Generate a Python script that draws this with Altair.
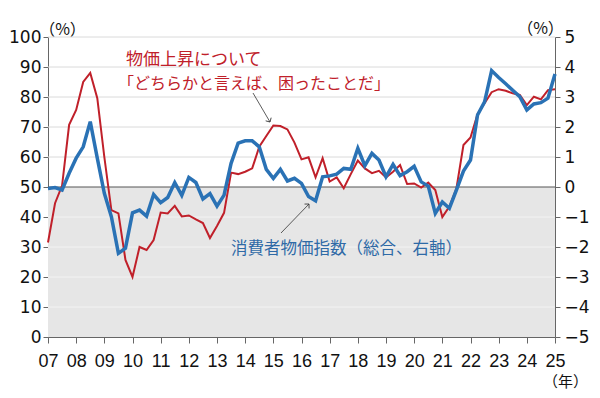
import altair as alt
import pandas as pd

# ---- data (quarterly, 2007Q1 .. 2025Q1) ----
start_year = 2007
red_pct = [31.5, 44.6, 50.5, 70.7, 75.7, 85.0, 88.0, 79.6, 60.0, 42.3,
           41.2, 25.7, 20.0, 30.0, 29.0, 32.3, 41.5, 41.2, 43.7, 40.2,
           40.5, 39.2, 38.0, 33.0, 37.0, 41.4, 54.8, 54.3, 55.1, 56.2,
           63.4, 67.0, 70.5, 70.3, 69.2, 64.8, 59.2, 59.9, 53.2, 59.6,
           51.8, 53.2, 49.6, 54.3, 58.8, 56.2, 54.6, 55.4, 53.2, 55.1,
           57.3, 51.0, 51.2, 49.8, 51.5, 49.0, 40.0, 43.5, 49.5, 64.0,
           66.5, 74.3, 77.9, 81.6, 82.6, 82.1, 81.2, 80.7, 77.3, 80.1,
           79.2, 82.3, 82.6]
cpi = [-0.05, -0.02, -0.10, 0.46, 0.96, 1.34, 2.18, 0.96, -0.21, -0.99,
       -2.21, -2.04, -0.86, -0.77, -0.97, -0.25, -0.52, -0.35, 0.15, -0.28,
       0.32, 0.15, -0.40, -0.22, -0.64, -0.27, 0.79, 1.46, 1.54, 1.54,
       1.34, 0.59, 0.29, 0.59, 0.20, 0.29, 0.12, -0.32, -0.46, 0.34,
       0.37, 0.43, 0.62, 0.59, 1.29, 0.71, 1.12, 0.90, 0.34, 0.75,
       0.38, 0.51, 0.69, 0.17, 0.03, -0.88, -0.50, -0.71, -0.10, 0.53,
       0.90, 2.40, 2.84, 3.88, 3.65, 3.44, 3.22, 3.01, 2.57, 2.77,
       2.81, 2.96, 3.77]
years = list(range(2007, 2026))
left_ticks = list(range(0, 101, 10))
right_ticks = list(range(-5, 6))
grid_upper = [60, 70, 80, 90, 100]
grid_lower = [10, 20, 30, 40]
baseline = [50]

red_label1 = "物価上昇について"
red_label2 = "「どちらかと言えば、困ったことだ」"
blue_label = "消費者物価指数（総合、右軸）"

t = [start_year + i / 4 for i in range(len(red_pct))]
df = pd.DataFrame({"t": t, "red": red_pct, "cpi": cpi})

W, H = 507, 300
RED = "#c0202a"
BLUE = "#2a72b5"
AX = "#666666"
CJK = "Noto Sans CJK JP"

xscale = alt.Scale(domain=[2007, 2025], nice=False, zero=False)
lscale = alt.Scale(domain=[0, 100], nice=False, zero=False)
rscale = alt.Scale(domain=[-5, 5], nice=False, zero=False)

x_axis = alt.Axis(values=years, format="d", labelExpr="slice(datum.label, 2)",
                  grid=False, domainColor=AX, tickColor=AX, tickSize=6,
                  labelFont="Liberation Sans", labelFontSize=18, labelColor="#111",
                  labelPadding=9, title="（年）", titleFont=CJK, titleFontSize=15,
                  titleFontWeight="normal", titleColor="#111", titleX=517, titleY=44,
                  titleAlign="center", titleBaseline="middle", labelFlush=False)
X = alt.X("t:Q", scale=xscale, axis=x_axis)

left_axis = alt.Axis(values=left_ticks, grid=False, domainColor=AX, tickColor=AX,
                     tickSize=5, labelFont="DejaVu Sans", labelFontSize=17,
                     labelColor="#111", labelPadding=2, title="（%）", titleFont=CJK,
                     titleFontSize=16, titleFontWeight="normal", titleColor="#111",
                     titleAngle=0, titleX=14, titleY=-8, titleAlign="center",
                     titleBaseline="middle")
right_axis = alt.Axis(orient="right", values=right_ticks, grid=False, domainColor=AX,
                      tickColor=AX, tickSize=5, labelFont="DejaVu Sans", labelFontSize=17,
                      labelColor="#111", labelPadding=4, title="（%）", titleFont=CJK,
                      titleFontSize=16, titleFontWeight="normal", titleColor="#111",
                      titleAngle=0, titleX=-15, titleY=-9, titleAlign="center",
                      titleBaseline="middle")

one = alt.Data(values=[{}])

bg = alt.Chart(alt.Data(values=[{"y0": 0, "y1": 50}])).mark_rect(color="#e6e6e6").encode(
    x=alt.value(0), x2=alt.value(W),
    y=alt.Y("y0:Q", scale=lscale, axis=None), y2="y1:Q")

g_up = alt.Chart(pd.DataFrame({"g": grid_upper})).mark_rule(color="#dadada", strokeWidth=1).encode(
    y=alt.Y("g:Q", scale=lscale, axis=None))
g_lo = alt.Chart(pd.DataFrame({"g": grid_lower})).mark_rule(color="#f3f3f3", strokeWidth=1).encode(
    y=alt.Y("g:Q", scale=lscale, axis=None))
zero = alt.Chart(pd.DataFrame({"g": baseline})).mark_rule(color="#555555", strokeWidth=1).encode(
    y=alt.Y("g:Q", scale=lscale, axis=None))

red_line = alt.Chart(df).mark_line(color=RED, strokeWidth=2).encode(
    x=X, y=alt.Y("red:Q", scale=lscale, axis=left_axis))
blue_line = alt.Chart(df).mark_line(color=BLUE, strokeWidth=3.5).encode(
    x=X, y=alt.Y("cpi:Q", scale=rscale, axis=right_axis))

txt1 = alt.Chart(one).mark_text(text=red_label1, font=CJK, fontSize=17, color=RED,
                                align="left", baseline="middle").encode(
    x=alt.value(78), y=alt.value(23))
txt2 = alt.Chart(one).mark_text(text=red_label2, font=CJK, fontSize=16, color=RED,
                                align="left", baseline="middle").encode(
    x=alt.value(70), y=alt.value(47))
txt3 = alt.Chart(one).mark_text(text=blue_label, font=CJK, fontSize=16.5, color="#2f6aa6",
                                align="left", baseline="middle").encode(
    x=alt.value(183), y=alt.value(212))

arr1 = alt.Chart(one).mark_rule(color="#333", strokeWidth=0.8).encode(
    x=alt.value(205), y=alt.value(56), x2=alt.value(222), y2=alt.value(85))
head1 = alt.Chart(one).mark_point(shape="M -1 1 L 0 0 L 1 1", filled=False, color="#333",
                                  strokeWidth=0.8, size=40, angle=150, opacity=1).encode(
    x=alt.value(222), y=alt.value(85))
arr2 = alt.Chart(one).mark_rule(color="#333", strokeWidth=0.8).encode(
    x=alt.value(233), y=alt.value(196), x2=alt.value(261), y2=alt.value(167))
head2 = alt.Chart(one).mark_point(shape="M -1 1 L 0 0 L 1 1", filled=False, color="#333",
                                  strokeWidth=0.8, size=40, angle=44, opacity=1).encode(
    x=alt.value(261), y=alt.value(167))

chart = alt.layer(bg, g_up, g_lo, zero, red_line, blue_line,
                  txt1, txt2, txt3, arr1, head1, arr2, head2).resolve_scale(
    y="independent").properties(
    width=W, height=H, autosize="none",
    padding={"left": 40, "top": 29, "right": 37, "bottom": 53},
    background="white").configure_view(stroke=None)

chart.save("out.html", embed_options={"renderer": "svg", "actions": False})
